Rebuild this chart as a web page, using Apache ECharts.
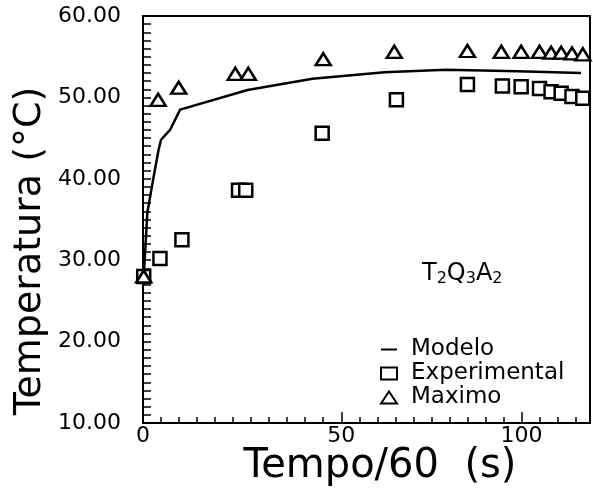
<!DOCTYPE html>
<html>
<head>
<meta charset="utf-8">
<script src="https://cdn.jsdelivr.net/npm/echarts@6/dist/echarts.min.js"></script>
<style>
html,body{margin:0;padding:0;background:#fff;}
#chart{width:593px;height:495px;}
</style>
</head>
<body>
<div id="chart"></div>
<script>
// ---- data ----
var modeloX = [-4.8, -3.8, -2.2, -0.7, 0.0, 2.5, 5.3, 24, 42, 62, 79, 99, 116.5];
var modeloY = [27.9, 35.8, 39.9, 43.5, 44.8, 46.0, 48.5, 50.9, 52.3, 53.1, 53.4, 53.2, 53.0];

var expX = [-4.8, -0.3, 5.8, 21.5, 23.5, 44.7, 65.3, 85, 94.7, 99.9, 105, 108.2, 111, 114, 117];
var expY = [28.0, 30.2, 32.5, 38.6, 38.6, 45.6, 49.7, 51.6, 51.4, 51.3, 51.1, 50.7, 50.5, 50.1, 49.9];

var maxX = [-4.8, -0.8, 4.9, 20.6, 24.2, 45, 64.7, 85, 94.4, 99.9, 105, 108.2, 111, 114, 117];
var maxY = [28.0, 49.7, 51.2, 52.9, 52.9, 54.7, 55.6, 55.7, 55.6, 55.6, 55.6, 55.5, 55.5, 55.4, 55.3];

var xTickValues = [-5, 50, 100];
var xTickLabels = ['0', '50', '100'];
var xMajorTicks = [50, 100];
var yTickValues = [10, 20, 30, 40, 50, 60];

var seriesNames = ['Modelo', 'Experimental', 'Maximo'];
var xTitle = 'Tempo/60  (s)';
var yTitle = 'Temperatura (°C)';

function pairs(xs, ys) { return xs.map(function (x, i) { return [x, ys[i]]; }); }

var FONT = 'DejaVu Sans';
var chart = echarts.init(document.getElementById('chart'), null, {renderer: 'canvas'});

var option = {
  backgroundColor: '#fff',
  animation: false,
  grid: {left: 143, right: 3, top: 16, bottom: 72, show: true, borderColor: '#000', borderWidth: 2, backgroundColor: 'transparent'},
  xAxis: [{
    type: 'value', min: -5, max: 119, interval: 5,
    splitLine: {show: false},
    axisLine: {show: true, onZero: false, lineStyle: {color: '#000', width: 2}},
    axisTick: {show: true, inside: true, length: 6, lineStyle: {color: '#000', width: 1.5}},
    axisLabel: {
      customValues: xTickValues,
      formatter: function (v) { var i = xTickValues.indexOf(Math.round(v)); return i >= 0 ? xTickLabels[i] : ''; },
      color: '#000', fontFamily: FONT, fontSize: 22, margin: 2
    }
  }, {
    type: 'value', min: -5, max: 119, interval: 5, position: 'bottom',
    splitLine: {show: false},
    axisLine: {show: false},
    axisTick: {show: true, inside: true, length: 11, customValues: xMajorTicks, lineStyle: {color: '#000', width: 1.5}},
    axisLabel: {show: false}
  }],
  yAxis: {
    type: 'value', min: 10, max: 60, interval: 1,
    splitLine: {show: false},
    axisLine: {show: true, onZero: false, lineStyle: {color: '#000', width: 2}},
    axisTick: {show: true, inside: true, length: 8, lineStyle: {color: '#000', width: 1.5}},
    axisLabel: {
      customValues: yTickValues,
      formatter: function (v) { return v.toFixed(2); },
      color: '#000', fontFamily: FONT, fontSize: 22, margin: 22
    }
  },
  legend: {
    orient: 'vertical', left: 375, top: 333, itemGap: 1,
    itemWidth: 16, itemHeight: 12,
    data: [
      {name: seriesNames[0], itemStyle: {opacity: 0}},
      {name: seriesNames[1]},
      {name: seriesNames[2]}
    ],
    textStyle: {color: '#000', fontFamily: FONT, fontSize: 23, padding: [0, 0, 0, 9]}
  },
  series: [{
    name: seriesNames[0], type: 'line', data: pairs(modeloX, modeloY),
    showSymbol: false, symbol: 'none',
    lineStyle: {color: '#000', width: 2.5}, itemStyle: {color: '#000'}, z: 2
  }, {
    name: seriesNames[1], type: 'scatter', data: pairs(expX, expY),
    symbol: 'rect', symbolSize: [13, 13],
    itemStyle: {color: '#fff', borderColor: '#000', borderWidth: 2.5, opacity: 1}, z: 3
  }, {
    name: seriesNames[2], type: 'scatter', data: pairs(maxX, maxY),
    symbol: 'triangle', symbolSize: [15, 12],
    itemStyle: {color: '#fff', borderColor: '#000', borderWidth: 2.5, opacity: 1}, z: 4
  }],
  graphic: [{
    type: 'text', x: 30, y: 251, rotation: Math.PI / 2,
    style: {text: yTitle, fill: '#000', font: '38px "' + FONT + '"', textAlign: 'center', textVerticalAlign: 'middle'}
  }, {
    type: 'text', x: 380, y: 467,
    style: {text: xTitle, fill: '#000', font: '40px "' + FONT + '"', textAlign: 'center', textVerticalAlign: 'middle'}
  }, {
    type: 'text', x: 422, y: 274,
    style: {
      text: '{b|T}{s|2}{b|Q}{s|3}{b|A}{s|2}',
      textVerticalAlign: 'middle',
      rich: {
        b: {fontFamily: FONT, fontSize: 24, fill: '#000', color: '#000'},
        s: {fontFamily: FONT, fontSize: 16, fill: '#000', color: '#000', padding: [10, 0, 0, 0]}
      }
    }
  }]
};
chart.setOption(option);
</script>
</body>
</html>
